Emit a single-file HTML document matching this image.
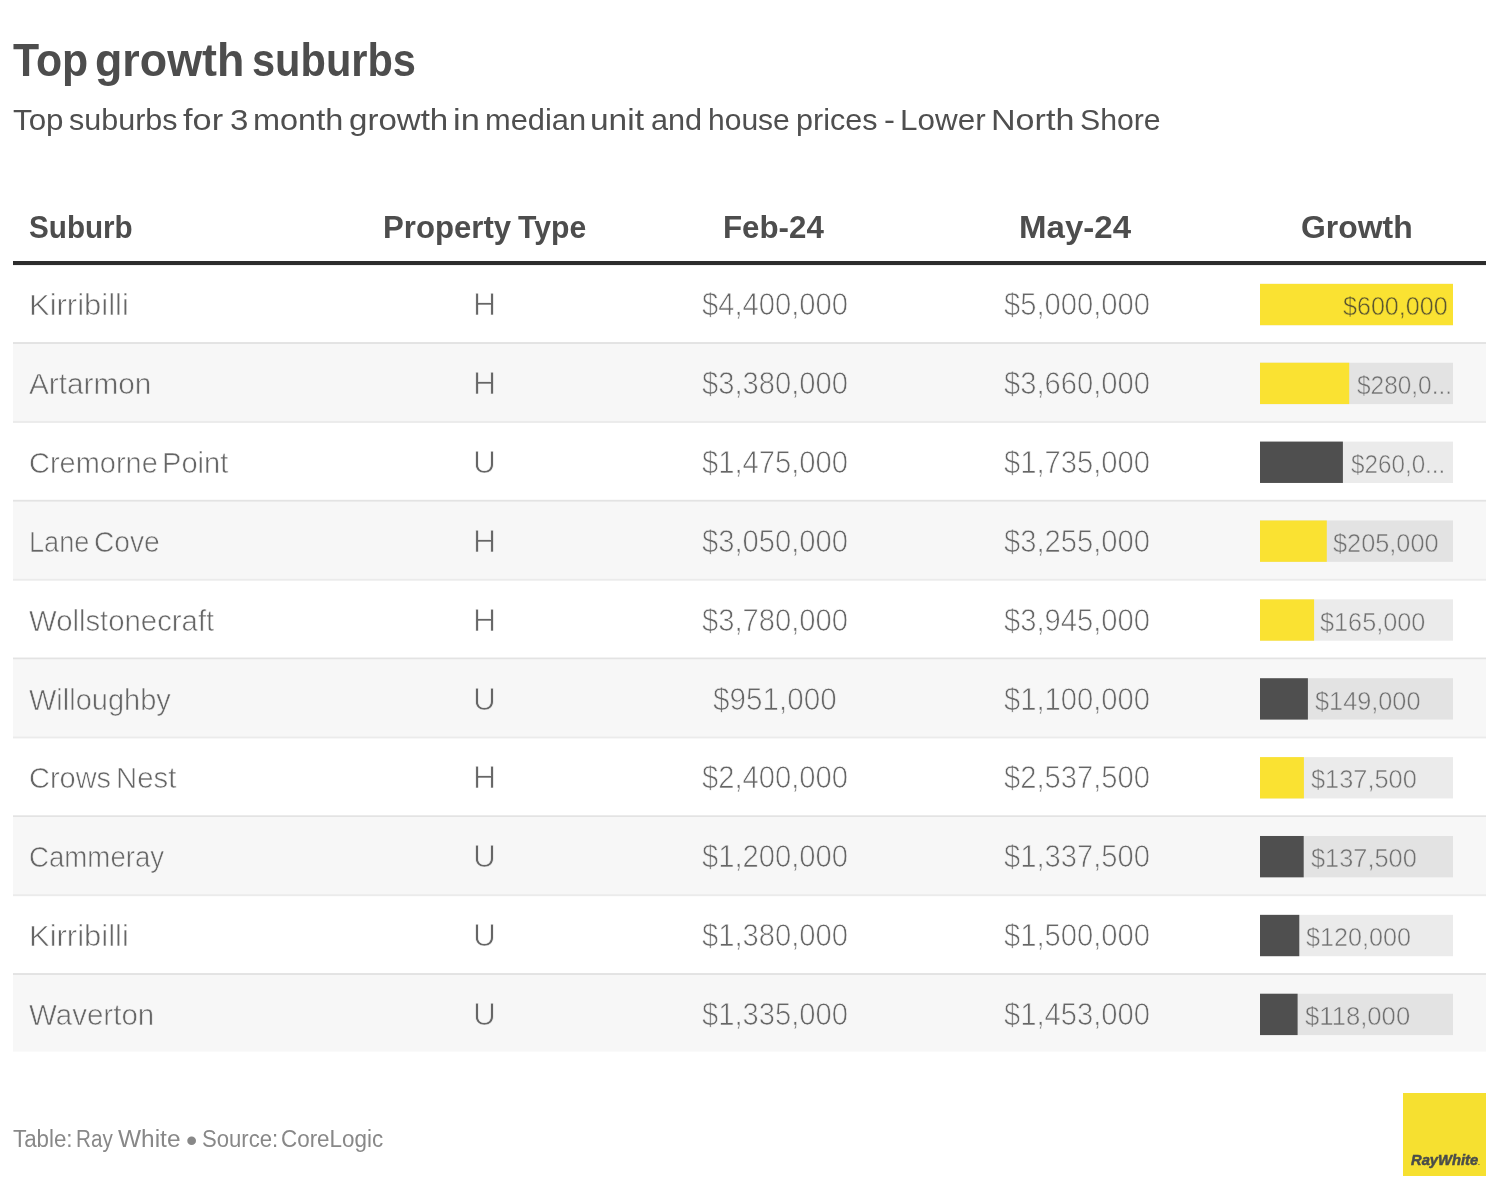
<!DOCTYPE html>
<html lang="en">
<head>
<meta charset="utf-8">
<title>Top growth suburbs</title>
<style>
html,body{margin:0;padding:0}
body{width:1488px;height:1192px;background:#fff;position:relative;overflow:hidden;font-family:'Liberation Sans',sans-serif}
.bg{position:absolute;left:0;top:0;display:block}
h1,p,header,main,footer,div{margin:0;padding:0;font:inherit}
.t{position:absolute;white-space:pre;line-height:1;transform-origin:0 0}
</style>
</head>
<body>
<svg class="bg" width="1488" height="1192" viewBox="0 0 1488 1192">
<rect x="13" y="261" width="1473" height="4" fill="#2d2d2d"/>
<rect x="13" y="265" width="1473" height="0.6" fill="#e6e6e6"/>
<rect x="13" y="342.05" width="1473" height="2" fill="#e3e3e3"/>
<rect x="1260" y="283.85" width="193" height="41.35" fill="#ebebeb"/>
<rect x="1260" y="283.85" width="193" height="41.35" fill="#fae232"/>
<rect x="13" y="344.05" width="1473" height="76.88" fill="#f7f7f7"/>
<rect x="13" y="420.93" width="1473" height="2" fill="#ebebeb"/>
<rect x="1260" y="362.73" width="193" height="41.35" fill="#e3e3e3"/>
<rect x="1260" y="362.73" width="89.2" height="41.35" fill="#fae232"/>
<rect x="13" y="499.8" width="1473" height="2" fill="#e3e3e3"/>
<rect x="1260" y="441.6" width="193" height="41.35" fill="#ebebeb"/>
<rect x="1260" y="441.6" width="82.9" height="41.35" fill="#4f4f4f"/>
<rect x="13" y="501.8" width="1473" height="76.87" fill="#f7f7f7"/>
<rect x="13" y="578.67" width="1473" height="2" fill="#ebebeb"/>
<rect x="1260" y="520.48" width="193" height="41.35" fill="#e3e3e3"/>
<rect x="1260" y="520.48" width="66.8" height="41.35" fill="#fae232"/>
<rect x="13" y="657.55" width="1473" height="2" fill="#e3e3e3"/>
<rect x="1260" y="599.35" width="193" height="41.35" fill="#ebebeb"/>
<rect x="1260" y="599.35" width="54.1" height="41.35" fill="#fae232"/>
<rect x="13" y="659.55" width="1473" height="76.87" fill="#f7f7f7"/>
<rect x="13" y="736.42" width="1473" height="2" fill="#ebebeb"/>
<rect x="1260" y="678.23" width="193" height="41.35" fill="#e3e3e3"/>
<rect x="1260" y="678.23" width="47.9" height="41.35" fill="#4f4f4f"/>
<rect x="13" y="815.3" width="1473" height="2" fill="#e3e3e3"/>
<rect x="1260" y="757.1" width="193" height="41.35" fill="#ebebeb"/>
<rect x="1260" y="757.1" width="43.9" height="41.35" fill="#fae232"/>
<rect x="13" y="817.3" width="1473" height="76.87" fill="#f7f7f7"/>
<rect x="13" y="894.17" width="1473" height="2" fill="#ebebeb"/>
<rect x="1260" y="835.98" width="193" height="41.35" fill="#e3e3e3"/>
<rect x="1260" y="835.98" width="43.7" height="41.35" fill="#4f4f4f"/>
<rect x="13" y="973.05" width="1473" height="2" fill="#e3e3e3"/>
<rect x="1260" y="914.85" width="193" height="41.35" fill="#ebebeb"/>
<rect x="1260" y="914.85" width="39.3" height="41.35" fill="#4f4f4f"/>
<rect x="13" y="975.05" width="1473" height="76.55" fill="#f7f7f7"/>
<rect x="1260" y="993.73" width="193" height="41.35" fill="#e3e3e3"/>
<rect x="1260" y="993.73" width="37.6" height="41.35" fill="#4f4f4f"/>
<rect x="1403" y="1093" width="83" height="83" fill="#f6e030"/>
</svg>
<header>
<h1><span class="t" style="left:12.71px;top:36px;font-size:47px;color:#4d4d4d;transform:scaleX(0.9106);font-weight:700">Top </span><span class="t" style="left:94.89px;top:36px;font-size:47px;color:#4d4d4d;transform:scaleX(0.9535);font-weight:700">growth </span><span class="t" style="left:251.81px;top:36px;font-size:47px;color:#4d4d4d;transform:scaleX(0.8844);font-weight:700">suburbs </span></h1>
<p><span class="t" style="left:12.53px;top:104px;font-size:30.4px;color:#4f4f4f;transform:scaleX(1.0319)">Top </span><span class="t" style="left:68.75px;top:104px;font-size:30.4px;color:#4f4f4f;transform:scaleX(1.0042)">suburbs </span><span class="t" style="left:183.49px;top:104px;font-size:30.4px;color:#4f4f4f;transform:scaleX(1.1299)">for </span><span class="t" style="left:230.04px;top:104px;font-size:30.4px;color:#4f4f4f;transform:scaleX(1.0877)">3 </span><span class="t" style="left:253.36px;top:104px;font-size:30.4px;color:#4f4f4f;transform:scaleX(1.0683)">month </span><span class="t" style="left:348.64px;top:104px;font-size:30.4px;color:#4f4f4f;transform:scaleX(1.0875)">growth </span><span class="t" style="left:453.29px;top:104px;font-size:30.4px;color:#4f4f4f;transform:scaleX(1.1323)">in </span><span class="t" style="left:484.67px;top:104px;font-size:30.4px;color:#4f4f4f;transform:scaleX(1.0151)">median </span><span class="t" style="left:590.20px;top:104px;font-size:30.4px;color:#4f4f4f;transform:scaleX(1.1016)">unit </span><span class="t" style="left:651.11px;top:104px;font-size:30.4px;color:#4f4f4f;transform:scaleX(1.0084)">and </span><span class="t" style="left:707.97px;top:104px;font-size:30.4px;color:#4f4f4f;transform:scaleX(0.9878)">house </span><span class="t" style="left:795.70px;top:104px;font-size:30.4px;color:#4f4f4f;transform:scaleX(1.0063)">prices </span><span class="t" style="left:883.65px;top:104px;font-size:30.4px;color:#4f4f4f;transform:scaleX(1.0800)">- </span><span class="t" style="left:900.31px;top:104px;font-size:30.4px;color:#4f4f4f;transform:scaleX(1.0345)">Lower </span><span class="t" style="left:991.05px;top:104px;font-size:30.4px;color:#4f4f4f;transform:scaleX(1.1216)">North </span><span class="t" style="left:1080.05px;top:104px;font-size:30.4px;color:#4f4f4f;transform:scaleX(0.9950)">Shore </span></p>
</header>
<main role="table" aria-label="Top growth suburbs">
<div role="row" class="thead"><span class="t" style="left:29.18px;top:212px;font-size:31.5px;color:#4d4d4d;transform:scaleX(0.9410);font-weight:700">Suburb </span><span class="t" style="left:382.72px;top:212px;font-size:31.5px;color:#4d4d4d;transform:scaleX(0.9894);font-weight:700">Property </span><span class="t" style="left:518.10px;top:212px;font-size:31.5px;color:#4d4d4d;transform:scaleX(0.9578);font-weight:700">Type </span><span class="t" style="left:723.37px;top:212px;font-size:31.5px;color:#4d4d4d;transform:scaleX(0.9932);font-weight:700">Feb-24 </span><span class="t" style="left:1018.97px;top:212px;font-size:31.5px;color:#4d4d4d;transform:scaleX(1.0492);font-weight:700">May-24 </span><span class="t" style="left:1301.13px;top:212px;font-size:31.5px;color:#4d4d4d;transform:scaleX(1.0131);font-weight:700">Growth </span></div>
<div role="row" class="tr"><span class="t" style="left:29.42px;top:290px;font-size:30px;color:#666666;transform:scaleX(1.0329);-webkit-text-stroke:0.62px #ffffff">Kirribilli </span><span class="t" style="left:472.71px;top:289px;font-size:31px;color:#666666;transform:scaleX(1.0388);-webkit-text-stroke:0.75px #ffffff">H </span><span class="t" style="left:702.26px;top:289px;font-size:31px;color:#666666;transform:scaleX(0.9411);-webkit-text-stroke:0.75px #ffffff">$4,400,000 </span><span class="t" style="left:1004.38px;top:289px;font-size:31px;color:#666666;transform:scaleX(0.9411);-webkit-text-stroke:0.75px #ffffff">$5,000,000 </span><span class="t" style="left:1343.09px;top:293px;font-size:26px;color:#5a5530;transform:scaleX(0.9650);-webkit-text-stroke:0.5px #fae232">$600,000 </span></div>
<div role="row" class="tr"><span class="t" style="left:29.00px;top:369px;font-size:30px;color:#666666;transform:scaleX(0.9919);-webkit-text-stroke:0.62px #f7f7f7">Artarmon </span><span class="t" style="left:472.71px;top:368px;font-size:31px;color:#666666;transform:scaleX(1.0388);-webkit-text-stroke:0.75px #f7f7f7">H </span><span class="t" style="left:702.26px;top:368px;font-size:31px;color:#666666;transform:scaleX(0.9411);-webkit-text-stroke:0.75px #f7f7f7">$3,380,000 </span><span class="t" style="left:1004.38px;top:368px;font-size:31px;color:#666666;transform:scaleX(0.9411);-webkit-text-stroke:0.75px #f7f7f7">$3,660,000 </span><span class="t" style="left:1356.63px;top:372px;font-size:26px;color:#707070;transform:scaleX(0.9386);-webkit-text-stroke:0.5px #e3e3e3">$280,0... </span></div>
<div role="row" class="tr"><span class="t" style="left:28.85px;top:448px;font-size:30px;color:#666666;transform:scaleX(0.9655);-webkit-text-stroke:0.62px #ffffff">Cremorne </span><span class="t" style="left:162.32px;top:448px;font-size:30px;color:#666666;transform:scaleX(0.9688);-webkit-text-stroke:0.62px #ffffff">Point </span><span class="t" style="left:473.01px;top:447px;font-size:31px;color:#666666;transform:scaleX(1.0235);-webkit-text-stroke:0.75px #ffffff">U </span><span class="t" style="left:702.26px;top:447px;font-size:31px;color:#666666;transform:scaleX(0.9411);-webkit-text-stroke:0.75px #ffffff">$1,475,000 </span><span class="t" style="left:1004.38px;top:447px;font-size:31px;color:#666666;transform:scaleX(0.9411);-webkit-text-stroke:0.75px #ffffff">$1,735,000 </span><span class="t" style="left:1350.59px;top:451px;font-size:26px;color:#707070;transform:scaleX(0.9321);-webkit-text-stroke:0.5px #ebebeb">$260,0... </span></div>
<div role="row" class="tr"><span class="t" style="left:28.95px;top:527px;font-size:30px;color:#666666;transform:scaleX(0.9043);-webkit-text-stroke:0.62px #f7f7f7">Lane </span><span class="t" style="left:93.94px;top:527px;font-size:30px;color:#666666;transform:scaleX(0.9392);-webkit-text-stroke:0.62px #f7f7f7">Cove </span><span class="t" style="left:472.71px;top:526px;font-size:31px;color:#666666;transform:scaleX(1.0388);-webkit-text-stroke:0.75px #f7f7f7">H </span><span class="t" style="left:702.26px;top:526px;font-size:31px;color:#666666;transform:scaleX(0.9411);-webkit-text-stroke:0.75px #f7f7f7">$3,050,000 </span><span class="t" style="left:1004.38px;top:526px;font-size:31px;color:#666666;transform:scaleX(0.9411);-webkit-text-stroke:0.75px #f7f7f7">$3,255,000 </span><span class="t" style="left:1332.64px;top:530px;font-size:26px;color:#707070;transform:scaleX(0.9738);-webkit-text-stroke:0.5px #e3e3e3">$205,000 </span></div>
<div role="row" class="tr"><span class="t" style="left:29.12px;top:606px;font-size:30px;color:#666666;transform:scaleX(0.9771);-webkit-text-stroke:0.62px #ffffff">Wollstonecraft </span><span class="t" style="left:472.71px;top:605px;font-size:31px;color:#666666;transform:scaleX(1.0388);-webkit-text-stroke:0.75px #ffffff">H </span><span class="t" style="left:702.26px;top:605px;font-size:31px;color:#666666;transform:scaleX(0.9411);-webkit-text-stroke:0.75px #ffffff">$3,780,000 </span><span class="t" style="left:1004.38px;top:605px;font-size:31px;color:#666666;transform:scaleX(0.9411);-webkit-text-stroke:0.75px #ffffff">$3,945,000 </span><span class="t" style="left:1319.79px;top:609px;font-size:26px;color:#707070;transform:scaleX(0.9713);-webkit-text-stroke:0.5px #ebebeb">$165,000 </span></div>
<div role="row" class="tr"><span class="t" style="left:29.06px;top:685px;font-size:30px;color:#666666;transform:scaleX(0.9667);-webkit-text-stroke:0.62px #f7f7f7">Willoughby </span><span class="t" style="left:473.01px;top:684px;font-size:31px;color:#666666;transform:scaleX(1.0235);-webkit-text-stroke:0.75px #f7f7f7">U </span><span class="t" style="left:712.79px;top:684px;font-size:31px;color:#666666;transform:scaleX(0.9561);-webkit-text-stroke:0.75px #f7f7f7">$951,000 </span><span class="t" style="left:1004.38px;top:684px;font-size:31px;color:#666666;transform:scaleX(0.9411);-webkit-text-stroke:0.75px #f7f7f7">$1,100,000 </span><span class="t" style="left:1314.93px;top:688px;font-size:26px;color:#707070;transform:scaleX(0.9729);-webkit-text-stroke:0.5px #e3e3e3">$149,000 </span></div>
<div role="row" class="tr"><span class="t" style="left:28.85px;top:763px;font-size:30px;color:#666666;transform:scaleX(0.9660);-webkit-text-stroke:0.62px #ffffff">Crows </span><span class="t" style="left:115.86px;top:763px;font-size:30px;color:#666666;transform:scaleX(0.9775);-webkit-text-stroke:0.62px #ffffff">Nest </span><span class="t" style="left:472.71px;top:762px;font-size:31px;color:#666666;transform:scaleX(1.0388);-webkit-text-stroke:0.75px #ffffff">H </span><span class="t" style="left:702.26px;top:762px;font-size:31px;color:#666666;transform:scaleX(0.9411);-webkit-text-stroke:0.75px #ffffff">$2,400,000 </span><span class="t" style="left:1004.38px;top:762px;font-size:31px;color:#666666;transform:scaleX(0.9411);-webkit-text-stroke:0.75px #ffffff">$2,537,500 </span><span class="t" style="left:1310.99px;top:766px;font-size:26px;color:#707070;transform:scaleX(0.9750);-webkit-text-stroke:0.5px #ebebeb">$137,500 </span></div>
<div role="row" class="tr"><span class="t" style="left:28.63px;top:842px;font-size:30px;color:#666666;transform:scaleX(0.9213);-webkit-text-stroke:0.62px #f7f7f7">Cammeray </span><span class="t" style="left:473.01px;top:841px;font-size:31px;color:#666666;transform:scaleX(1.0235);-webkit-text-stroke:0.75px #f7f7f7">U </span><span class="t" style="left:702.26px;top:841px;font-size:31px;color:#666666;transform:scaleX(0.9411);-webkit-text-stroke:0.75px #f7f7f7">$1,200,000 </span><span class="t" style="left:1004.38px;top:841px;font-size:31px;color:#666666;transform:scaleX(0.9411);-webkit-text-stroke:0.75px #f7f7f7">$1,337,500 </span><span class="t" style="left:1310.99px;top:845px;font-size:26px;color:#707070;transform:scaleX(0.9750);-webkit-text-stroke:0.5px #e3e3e3">$137,500 </span></div>
<div role="row" class="tr"><span class="t" style="left:29.42px;top:921px;font-size:30px;color:#666666;transform:scaleX(1.0329);-webkit-text-stroke:0.62px #ffffff">Kirribilli </span><span class="t" style="left:473.01px;top:920px;font-size:31px;color:#666666;transform:scaleX(1.0235);-webkit-text-stroke:0.75px #ffffff">U </span><span class="t" style="left:702.26px;top:920px;font-size:31px;color:#666666;transform:scaleX(0.9411);-webkit-text-stroke:0.75px #ffffff">$1,380,000 </span><span class="t" style="left:1004.38px;top:920px;font-size:31px;color:#666666;transform:scaleX(0.9411);-webkit-text-stroke:0.75px #ffffff">$1,500,000 </span><span class="t" style="left:1306.02px;top:924px;font-size:26px;color:#707070;transform:scaleX(0.9677);-webkit-text-stroke:0.5px #ebebeb">$120,000 </span></div>
<div role="row" class="tr"><span class="t" style="left:29.04px;top:1000px;font-size:30px;color:#666666;transform:scaleX(0.9838);-webkit-text-stroke:0.62px #f7f7f7">Waverton </span><span class="t" style="left:473.01px;top:999px;font-size:31px;color:#666666;transform:scaleX(1.0235);-webkit-text-stroke:0.75px #f7f7f7">U </span><span class="t" style="left:702.26px;top:999px;font-size:31px;color:#666666;transform:scaleX(0.9411);-webkit-text-stroke:0.75px #f7f7f7">$1,335,000 </span><span class="t" style="left:1004.38px;top:999px;font-size:31px;color:#666666;transform:scaleX(0.9411);-webkit-text-stroke:0.75px #f7f7f7">$1,453,000 </span><span class="t" style="left:1304.73px;top:1003px;font-size:26px;color:#707070;transform:scaleX(0.9874);-webkit-text-stroke:0.5px #e3e3e3">$118,000 </span></div>
</main>
<footer>
<div class="notes"><span class="t" style="left:12.76px;top:1128px;font-size:23.5px;color:#888888;transform:scaleX(0.9499)">Table: </span><span class="t" style="left:75.94px;top:1128px;font-size:23.5px;color:#888888;transform:scaleX(0.8780)">Ray </span><span class="t" style="left:118.04px;top:1128px;font-size:23.5px;color:#888888;transform:scaleX(1.0400)">White </span><span class="t" style="left:185.54px;top:1124px;font-size:32px;color:#888888;transform:scaleX(1.0057)">• </span><span class="t" style="left:201.86px;top:1128px;font-size:23.5px;color:#888888;transform:scaleX(0.9415)">Source: </span><span class="t" style="left:281.31px;top:1128px;font-size:23.5px;color:#888888;transform:scaleX(0.9539)">CoreLogic </span></div>
<div class="logo"><span class="t" style="left:1410.70px;top:1153px;font-size:14.5px;color:#4a4d4a;transform:scaleX(1.0167);font-weight:700;font-style:italic;-webkit-text-stroke:0.5px #4a4d4a">RayWhite</span><span class="t" style="left:1478.10px;top:1159px;font-size:7px;color:#6a6a40;transform:scaleX(1.2000);font-weight:700;font-style:italic">.</span></div>
</footer>
</body>
</html>
